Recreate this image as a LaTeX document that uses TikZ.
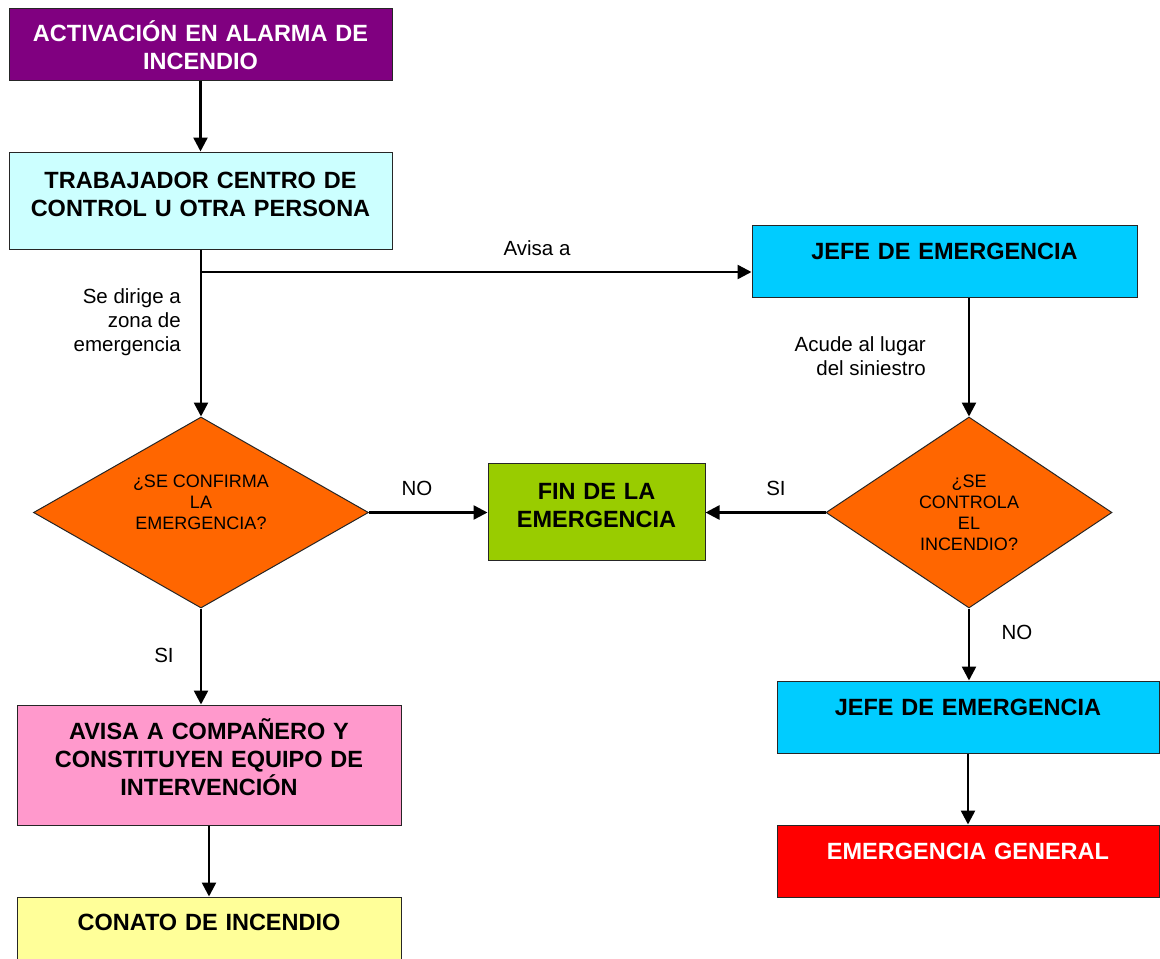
\documentclass[tikz,border=0pt]{standalone}
\usepackage{fontspec}
\setmainfont{Liberation Sans}
\usetikzlibrary{shapes.geometric,arrows.meta}

\definecolor{morado}{HTML}{800080}
\definecolor{celeste}{HTML}{CCFFFF}
\definecolor{cielo}{HTML}{00CCFF}
\definecolor{verde}{HTML}{99CC00}
\definecolor{naranja}{HTML}{FF6600}
\definecolor{rosa}{HTML}{FF99CC}
\definecolor{amarillo}{HTML}{FFFF99}

\tikzset{
    box/.style={draw=black!85, line width=1pt, inner sep=0pt, anchor=base, align=center,
        font=\bfseries\fontsize{23.5}{28}\selectfont},
    rombo/.style={diamond, aspect=2, draw=black!85, line width=1pt, fill=naranja, inner sep=0pt, align=center,
        font=\fontsize{18}{21}\selectfont},
    flecha/.style={line width=2.5pt, -{Triangle[length=14pt,width=14pt]}},
    etiq/.style={inner sep=0pt, font=\fontsize{20.5}{24}\selectfont}
}

\begin{document}
\begin{tikzpicture}[x=1pt, y=-1pt]
    \path[use as bounding box, clip] (0,0) rectangle (1160,959);

    % left column
    \node[box, fill=morado, text=white, text width=383pt, text height=33.5pt, text depth=38.5pt] (alarma) at (200.5,41.5) {ACTIVACIÓN EN ALARMA DE\\INCENDIO};
    \node[box, fill=celeste, text width=383pt, text height=36.5pt, text depth=60.5pt] (trab) at (200.5,188.5) {TRABAJADOR CENTRO DE\\CONTROL U OTRA PERSONA};
    \node[rombo, minimum width=335pt, minimum height=191pt] (conf) at (201,512.5) {¿SE CONFIRMA\\LA\\EMERGENCIA?\\\mbox{}};
    \node[box, fill=rosa, text width=384pt, text height=34.5pt, text depth=85.5pt] (avisa) at (209,739.5) {AVISA A COMPAÑERO Y\\CONSTITUYEN EQUIPO DE\\INTERVENCIÓN};
    \node[box, fill=amarillo, text width=384pt, text height=33.5pt, text depth=40.5pt] (conato) at (209,930.5) {CONATO DE INCENDIO};

    % middle
    \node[box, fill=verde, text width=217pt, text height=36.5pt, text depth=60.5pt] (fin) at (596.5,499.5) {FIN DE LA\\EMERGENCIA};

    % right column
    \node[box, fill=cielo, text width=385pt, text height=34.5pt, text depth=37.5pt] (jefe) at (944.5,259.5) {JEFE DE EMERGENCIA};
    \node[rombo, minimum width=286pt, minimum height=191pt] (ctrl) at (969,512.5) {¿SE\\CONTROLA\\EL\\INCENDIO?};
    \node[box, fill=cielo, text width=382pt, text height=34.5pt, text depth=37.5pt] (jefeb) at (968,715.5) {JEFE DE EMERGENCIA};
    \node[box, fill=red, text=white, text width=382pt, text height=34.5pt, text depth=37.5pt] (general) at (968,859.5) {EMERGENCIA GENERAL};

    % labels
    \node[etiq] (avisaa) at (537,248) {Avisa a};
    \node[etiq, align=right, anchor=east] (dirige) at (181,322) {Se dirige a\\zona de\\emergencia};
    \node[etiq, align=right, anchor=east] (acude) at (926,356) {Acude al lugar\\del siniestro};
    \node[etiq] (no1) at (417,488) {NO};
    \node[etiq] (si1) at (776,488) {SI};
    \node[etiq] (si2) at (164,655) {SI};
    \node[etiq] (no2) at (1017,632) {NO};

    % connectors
    \coordinate (rama) at (201,272);
    \draw[flecha] (alarma) -- (trab);
    \draw[flecha] (conf.north |- trab.south) -- (conf.north);
    \draw[flecha] (rama) -- (rama -| jefe.west);
    \draw[flecha] (ctrl.north |- jefe.south) -- (ctrl.north);
    \draw[flecha] (conf.east) -- (conf.east -| fin.west);
    \draw[flecha] (ctrl.west) -- (ctrl.west -| fin.east);
    \draw[flecha] (ctrl.south) -- (ctrl.south |- jefeb.north);
    \draw[flecha] (jefeb) -- (general);
    \draw[flecha] (conf.south) -- (conf.south |- avisa.north);
    \draw[flecha] (avisa) -- (conato);

\end{tikzpicture}
\end{document}
